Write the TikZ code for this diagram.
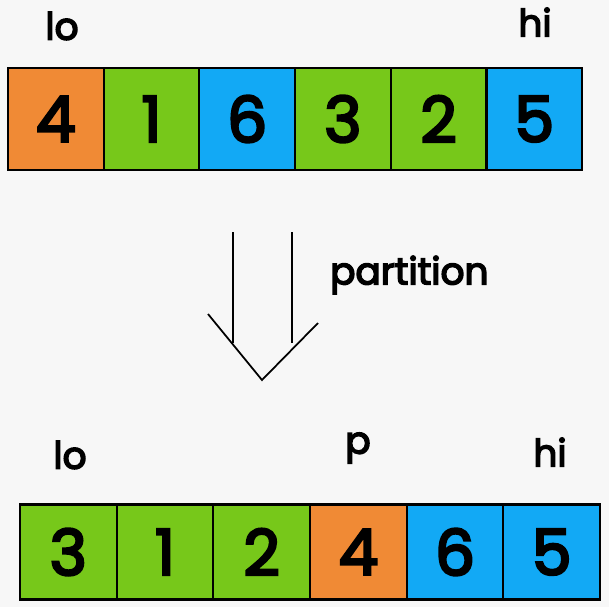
\documentclass[tikz,border=0pt]{standalone}
\usepackage{fontspec}
\setmainfont{Poppins}[BoldFont=Poppins, BoldFeatures={FakeBold=4}]
\definecolor{orng}{HTML}{F08A35}
\definecolor{grn}{HTML}{77C81A}
\definecolor{blu}{HTML}{12A9F5}
\definecolor{bg}{HTML}{F7F7F7}
\tikzset{
  cell/.style={draw, line width=1.9pt, minimum width=2.87cm, minimum height=3.05cm, inner sep=0pt, font=\fontsize{54}{54}\selectfont\bfseries},
  lbl/.style={font=\fontsize{32}{32}\selectfont\bfseries},
}
\begin{document}
\begin{tikzpicture}[x=0.03cm, y=-0.03cm]
\fill[bg] (0, 0) rectangle (609, 607);
\useasboundingbox (0, 0) rectangle (609, 607);

\node[lbl] (lo1) at (62, 26) {lo};
\node[lbl] (hi1) at (535, 22) {hi};

\node[cell, fill=orng] (a1) at (55.8, 119) {4};
\node[cell, fill=grn]  (a2) at (151.5, 119) {1};
\node[cell, fill=blu]  (a3) at (247.2, 119) {6};
\node[cell, fill=grn]  (a4) at (342.9, 119) {3};
\node[cell, fill=grn]  (a5) at (438.6, 119) {2};
\node[cell, fill=blu]  (a6) at (534.3, 119) {5};

\draw[line width=1.5pt] (233, 232) -- (233, 343);
\draw[line width=1.5pt] (292, 232) -- (292, 343);
\draw[line width=1.5pt] (208, 314) -- (262, 380) -- (318, 323);
\node[lbl, anchor=west] (part) at (326, 275) {partition};

\node[lbl] (lo2) at (70, 455) {lo};
\node[lbl] (p2) at (358, 448) {p};
\node[lbl] (hi2) at (550, 452) {hi};

\node[cell, fill=grn, minimum width=2.9cm, minimum height=2.85cm]  (b1) at (68.3, 552) {3};
\node[cell, fill=grn, minimum width=2.9cm, minimum height=2.85cm]  (b2) at (165, 552) {1};
\node[cell, fill=grn, minimum width=2.9cm, minimum height=2.85cm]  (b3) at (261.7, 552) {2};
\node[cell, fill=orng, minimum width=2.9cm, minimum height=2.85cm] (b4) at (358.4, 552) {4};
\node[cell, fill=blu, minimum width=2.9cm, minimum height=2.85cm]  (b5) at (455, 552) {6};
\node[cell, fill=blu, minimum width=2.9cm, minimum height=2.85cm]  (b6) at (551.7, 552) {5};
\end{tikzpicture}
\end{document}
